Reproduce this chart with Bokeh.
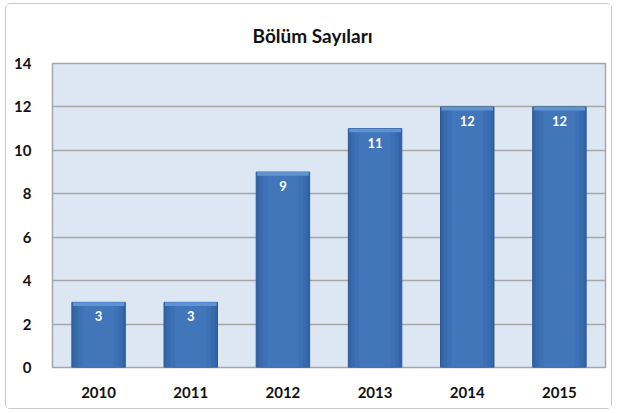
from bokeh.plotting import figure
from bokeh.models import ColumnDataSource, FixedTicker
from bokeh.core.properties import value
from bokeh.embed import file_html
from bokeh.resources import INLINE

years = ["2010", "2011", "2012", "2013", "2014", "2015"]
counts = [3, 3, 9, 11, 12, 12]
y_ticks = [0, 2, 4, 6, 8, 10, 12, 14]
title_text = "Bölüm Sayıları"

src = ColumnDataSource(dict(x=years, y=counts, lbl=[str(c) for c in counts],
                            bev=[c - 0.17 for c in counts]))

p = figure(x_range=years, y_range=(0, 14), width=607, height=406,
           output_backend="svg", toolbar_location=None,
           min_border_left=46, min_border_right=8, min_border_top=59, min_border_bottom=43)
p.styles = {"border": "1px solid #c8c8c8", "border-radius": "5px",
            "margin-left": "5px", "margin-top": "3px"}

p.title.text = title_text
p.title.align = "left"
p.title.offset = 200
p.title.standoff = 30
p.title.vertical_align = "top"
p.title.text_font = "Lato"
p.title.text_font_size = "19px"
p.title.text_font_style = "bold"
p.title.text_color = "#111111"

p.background_fill_color = "#dde7f3"
p.border_fill_color = "white"
p.outline_line_color = "#a6a6a6"
p.outline_line_width = 1.5

p.xgrid.grid_line_color = None
p.ygrid.grid_line_color = "#a6a6a6"
p.ygrid.grid_line_width = 1.5
p.yaxis.ticker = FixedTicker(ticks=y_ticks)

for ax in (p.xaxis, p.yaxis):
    ax.axis_line_color = None
    ax.major_tick_line_color = None
    ax.minor_tick_line_color = None
    ax.major_label_text_font = "Lato"
    ax.major_label_text_font_size = "15px"
    ax.major_label_text_font_style = "bold"
    ax.major_label_text_color = "#111111"
p.yaxis.major_label_standoff = 15
p.xaxis.major_label_standoff = 13

# bars with a soft shading effect
p.vbar(x="x", top="y", width=0.58, source=src, fill_color="#3264a6", line_color="#2b5793")
p.vbar(x="x", top="y", width=0.52, source=src, fill_color="#386bae", line_color=None)
p.vbar(x="x", top="y", width=0.44, source=src, fill_color="#3d71b5", line_color=None)
p.vbar(x="x", top="y", width=0.34, source=src, fill_color="#4176bb", line_color=None)
p.vbar(x="x", top="y", bottom="bev", width=0.56, source=src, fill_color="#5f93d2", line_color=None)

p.text(x="x", y="y", text="lbl", source=src, text_align="center", text_baseline="middle",
       y_offset=14, text_color="white", text_font=value("Lato"),
       text_font_size="13px", text_font_style="bold")

open("out.html", "w").write(file_html(p, INLINE))
